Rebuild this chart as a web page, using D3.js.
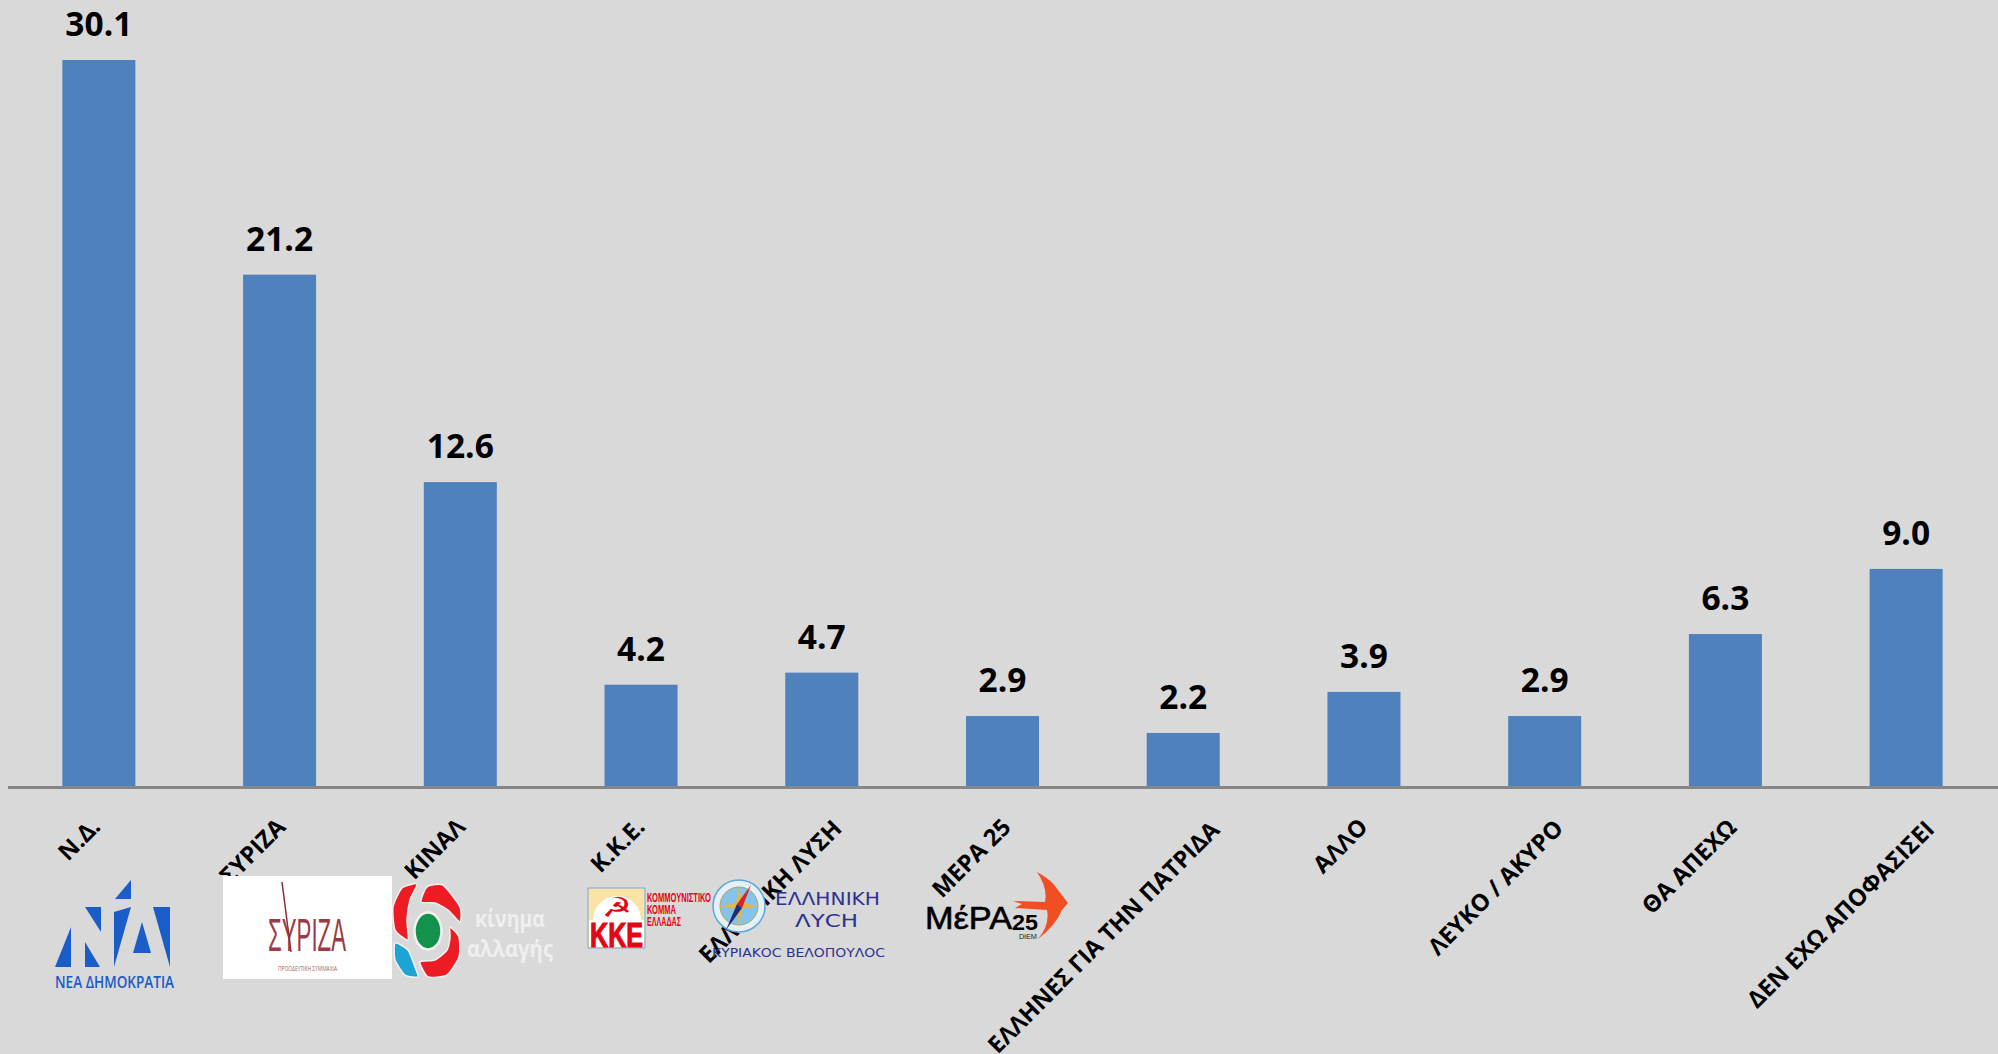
<!DOCTYPE html>
<meta charset="utf-8">
<style>
    html, body { margin: 0; padding: 0; background: #d9d9d9; overflow: hidden; }
    svg { display: block; font-family: "Open Sans", sans-serif; }
</style>
<script src="https://d3js.org/d3.v7.min.js"></script>
<div class="canvas"></div>

<script>
    const categories = ["Ν.Δ.", "ΣΥΡΙΖΑ", "ΚΙΝΑΛ", "Κ.Κ.Ε.", "ΕΛΛΗΝΙΚΗ ΛΥΣΗ", "ΜΕΡΑ 25",
        "ΕΛΛΗΝΕΣ ΓΙΑ ΤΗΝ ΠΑΤΡΙΔΑ", "ΑΛΛΟ", "ΛΕΥΚΟ / ΑΚΥΡΟ", "ΘΑ ΑΠΕΧΩ", "ΔΕΝ ΕΧΩ ΑΠΟΦΑΣΙΣΕΙ"];
    const values = [30.1, 21.2, 12.6, 4.2, 4.7, 2.9, 2.2, 3.9, 2.9, 6.3, 9.0];

    const width = 1998
    const height = 1054
    const baseline = 786

    const svg = d3.select(".canvas")
                .append("svg")
                .attr("width", width)
                .attr("height", height)

    svg.append("rect").attr("width", width).attr("height", height).attr("fill", "#d9d9d9")

    const x = d3.scaleBand()
                .domain(categories)
                .range([8.5, 1996.5])
                .paddingInner(0.596)
                .paddingOuter(0.298)

    const y = d3.scaleLinear()
                .domain([0, 30.1])
                .range([baseline, 60])

    // bars
    svg.selectAll("rect.bar").data(values).enter()
        .append("rect")
        .attr("class", "bar")
        .attr("x", (d, i) => x(categories[i]))
        .attr("y", d => y(d))
        .attr("width", x.bandwidth())
        .attr("height", d => baseline - y(d))
        .attr("fill", "#4f81bd")

    // value labels
    svg.selectAll("text.value").data(values).enter()
        .append("text")
        .attr("class", "value")
        .attr("x", (d, i) => x(categories[i]) + x.bandwidth() / 2)
        .attr("y", d => y(d) - 24)
        .attr("text-anchor", "middle")
        .attr("font-size", 33.5)
        .attr("font-weight", 700)
        .attr("fill", "#000")
        .text(d => d.toFixed(1))

    // x axis, tick labels at 45 degrees
    const xAxis = d3.axisBottom(x).tickSize(0)
    const gXAxis = svg.append("g")
                    .attr("transform", `translate(0,${baseline + 1.5})`)
                    .call(xAxis)
    gXAxis.select(".domain")
        .attr("d", "M8,0H1998")
        .attr("stroke", "#868686")
        .attr("stroke-width", 3)
    gXAxis.selectAll("text")
        .attr("x", 0).attr("y", 0).attr("dy", 0)
        .attr("text-anchor", "end")
        .attr("font-family", "Open Sans")
        .attr("font-size", 23.5)
        .attr("font-weight", 700)
        .attr("fill", "#000")
    // the long labels sit further right in the original
    gXAxis.selectAll("text")
        .attr("transform", function() {
            const shift = 0.13 * (this.getComputedTextLength() - 75)
            return `translate(${6.5 + shift},${41 + shift * 0.1}) rotate(-45)`
        })

    // ---- party logos, rough redraws ----
    const logos = svg.append("g")

    const poly = (g, pts, fill) => g.append("polygon").attr("points", pts.join(" ")).attr("fill", fill)
    const label = (g, str, lx, ly, size, len, fill, weight, family) => g.append("text")
        .attr("x", lx).attr("y", ly)
        .attr("font-size", size)
        .attr("font-weight", weight || 400)
        .attr("font-family", family || "Open Sans")
        .attr("textLength", len)
        .attr("lengthAdjust", "spacingAndGlyphs")
        .attr("fill", fill)
        .text(str)

    // Νέα Δημοκρατία
    const nd = logos.append("g")
    const ndBlue = "#1a5cc8"
    const ndShapes = [
        ["131,880", "131,899", "115,899"],
        ["71,927", "71,967", "55,967"],
        ["85,907", "101,907", "101,932"],
        ["85,942", "100,967", "85,967"],
        ["114,912", "131,907", "114,967"],
        ["142,922", "151,953", "133,953"],
        ["153,907", "170,907", "170,967"]
    ]
    ndShapes.forEach(s => poly(nd, s, ndBlue))
    label(nd, "ΝΕΑ ΔΗΜΟΚΡΑΤΙΑ", 55, 988, 17, 119, ndBlue, 600)

    // ΣΥΡΙΖΑ
    const syr = logos.append("g")
    syr.append("rect").attr("x", 223).attr("y", 876).attr("width", 169).attr("height", 103).attr("fill", "#fff")
    label(syr, "ΣΥΡΙΖΑ", 268, 951, 46, 78, "#9c3b45", 400, "Liberation Sans")
    syr.append("line").attr("x1", 282).attr("y1", 882).attr("x2", 291).attr("y2", 952)
        .attr("stroke", "#8a2f3a").attr("stroke-width", 1.5)
    label(syr, "ΠΡΟΟΔΕΥΤΙΚΗ ΣΥΜΜΑΧΙΑ", 278, 971, 8, 59, "#9c5a62", 400)

    // ΚΙΝΑΛ
    const kin = logos.append("g")
    const swirl = d3.line().curve(d3.curveCardinalClosed.tension(0.4))
    const kinRed = "#ed1c24"
    const kinShapes = [
        [[[417, 884], [402, 888], [393, 907], [395, 930], [408, 940], [407, 920], [410, 900]], kinRed],
        [[[421, 902], [427, 887], [443, 885], [460, 907], [460, 922], [448, 910], [435, 903]], kinRed],
        [[[450, 927], [459, 937], [459, 957], [447, 975], [428, 977], [420, 962], [435, 960], [447, 950], [450, 938]], kinRed],
        [[[395, 943], [408, 950], [415, 967], [418, 977], [405, 975], [395, 960]], "#1ba4d4"]
    ]
    kinShapes.forEach(s => kin.append("path").attr("d", swirl(s[0])).attr("fill", s[1])
        .attr("stroke", "#f2f2f2").attr("stroke-width", 1.5))
    kin.append("ellipse").attr("cx", 428).attr("cy", 931).attr("rx", 13.5).attr("ry", 18.5)
        .attr("fill", "#12924a").attr("stroke", "#f2f2f2").attr("stroke-width", 2.5)
    label(kin, "κίνημα", 475, 927, 24, 70, "#efefef", 700)
    label(kin, "αλλαγής", 467, 957, 24, 86, "#efefef", 700)

    // Κ.Κ.Ε.
    const kke = logos.append("g")
    kke.append("rect").attr("x", 588).attr("y", 888).attr("width", 57).attr("height", 60)
        .attr("fill", "#fbe3a8").attr("stroke", "#7aa7d8").attr("stroke-width", 1)
    kke.append("path").attr("d", "M593,920 A24,24 0 0 1 641,920 Z").attr("fill", "#fff")
    label(kke, "☭", 602, 917, 28, 30, "#e30613", 400, "DejaVu Sans")
    kke.append("rect").attr("x", 589).attr("y", 920).attr("width", 55).attr("height", 27).attr("fill", "#fff")
    label(kke, "ΚΚΕ", 590, 947, 35, 53, "#e30613", 800, "Liberation Sans").attr("stroke", "#e30613").attr("stroke-width", 1.2)
    label(kke, "ΚΟΜΜΟΥΝΙΣΤΙΚΟ", 647, 901.5, 13, 64, "#e30613", 700, "Liberation Sans")
    label(kke, "ΚΟΜΜΑ", 647, 914, 13, 29, "#e30613", 700, "Liberation Sans")
    label(kke, "ΕΛΛΑΔΑΣ", 647, 926, 13, 34, "#e30613", 700, "Liberation Sans")

    // Ελληνική Λύση
    const el = logos.append("g")
    const elNavy = "#2e3192"
    el.append("circle").attr("cx", 739).attr("cy", 906).attr("r", 26).attr("fill", "#e4f1fa").attr("stroke", "#5ba8dc").attr("stroke-width", 1.5)
    el.append("circle").attr("cx", 739).attr("cy", 906).attr("r", 19).attr("fill", "#84c3ea").attr("stroke", "#b6a24a").attr("stroke-width", 1)
    poly(el, ["739,886", "742,903", "759,906", "742,909", "739,926", "736,909", "719,906", "736,903"], "#e0b84a")
    poly(el, ["751,885", "742,908", "737,904"], "#d8232a")
    poly(el, ["726,930", "742,908", "737,904"], "#1d2f7a")
    label(el, "ΕΛΛΗΝΙΚΗ", 775, 905, 18, 105, elNavy, 400, "DejaVu Sans")
    label(el, "ΛΥϹΗ", 795, 927, 18, 63, elNavy, 400, "DejaVu Sans")
    label(el, "ΚΥΡΙΑΚΟϹ ΒΕΛΟΠΟΥΛΟϹ", 712, 957, 12, 173, elNavy, 400, "DejaVu Sans")

    // ΜέΡΑ25
    const mera = logos.append("g")
    mera.append("path")
        .attr("d", "M1037,872 Q1052,880 1058,890 L1068,903 L1062,910 Q1056,925 1038,939 Q1050,925 1047,910 L1015,908 L1022,904 L1013,901 L1045,902 Q1048,888 1037,872 Z")
        .attr("fill", "#f04e23")
    label(mera, "ΜέΡΑ", 925, 929, 32, 87, "#000", 400, "Liberation Sans").attr("stroke", "#000").attr("stroke-width", 0.6)
    label(mera, "25", 1012, 930, 22, 26, "#000", 700, "Liberation Sans")
    label(mera, "DiEM", 1019, 939, 6.5, 18, "#222", 400, "Liberation Sans")
</script>
